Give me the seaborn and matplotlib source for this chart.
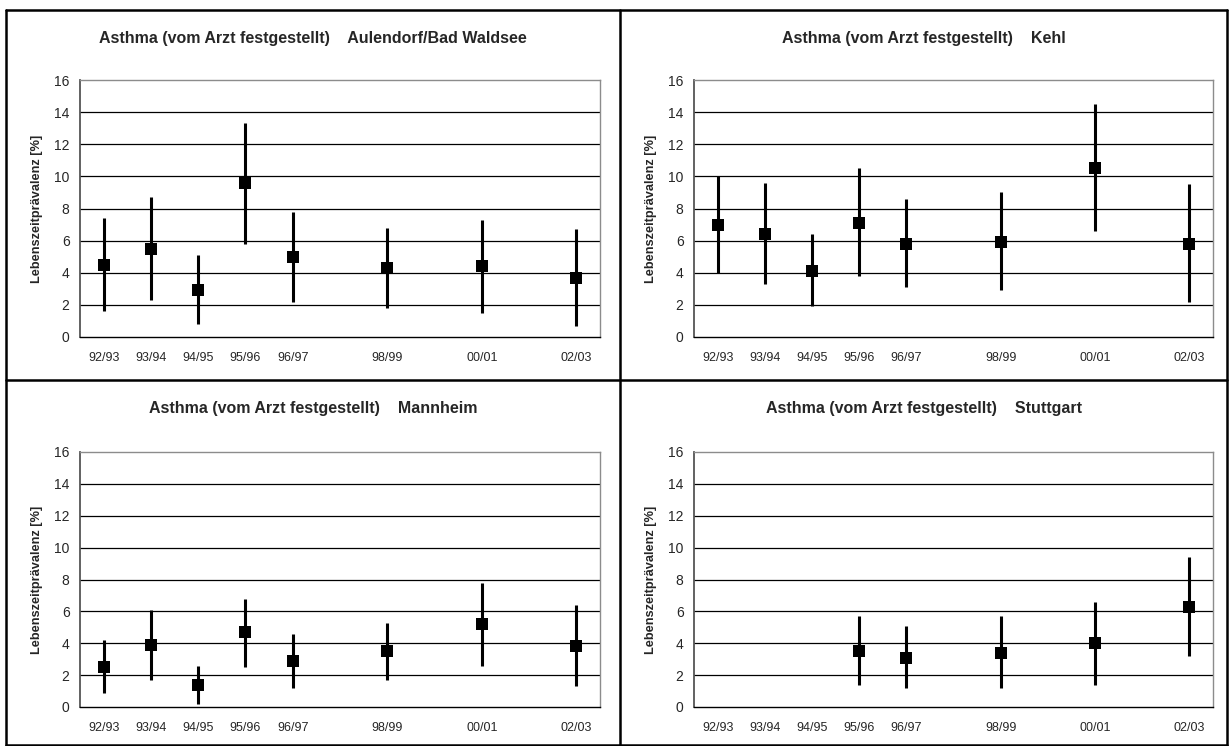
import matplotlib
matplotlib.use("Agg")
import matplotlib.pyplot as plt
from matplotlib.lines import Line2D
import seaborn as sns
import pandas as pd
import numpy as np

sns.set_style("white")
plt.rcParams["font.family"] = ["Liberation Sans", "DejaVu Sans"]

# Survey seasons on the category axis (some seasons without a survey)
seasons = ["92/93", "93/94", "94/95", "95/96", "96/97", "97/98",
           "98/99", "99/00", "00/01", "01/02", "02/03"]
tick_labels = ["92/93", "93/94", "94/95", "95/96", "96/97", "",
               "98/99", "", "00/01", "", "02/03"]

title_prefix = "Asthma (vom Arzt festgestellt)"
ylabel = "Lebenszeitprävalenz [%]"

# Lifetime prevalence with lower / upper confidence limits, per location
aulendorf_seasons = ["92/93", "93/94", "94/95", "95/96", "96/97", "98/99", "00/01", "02/03"]
aulendorf_value = [4.5, 5.5, 2.9, 9.6, 5.0, 4.3, 4.4, 3.7]
aulendorf_low = [1.6, 2.3, 0.8, 5.8, 2.2, 1.8, 1.5, 0.7]
aulendorf_high = [7.4, 8.7, 5.1, 13.3, 7.8, 6.8, 7.3, 6.7]

kehl_seasons = ["92/93", "93/94", "94/95", "95/96", "96/97", "98/99", "00/01", "02/03"]
kehl_value = [7.0, 6.4, 4.1, 7.1, 5.8, 5.9, 10.5, 5.8]
kehl_low = [4.0, 3.3, 1.9, 3.8, 3.1, 2.9, 6.6, 2.2]
kehl_high = [10.0, 9.6, 6.4, 10.5, 8.6, 9.0, 14.5, 9.5]

mannheim_seasons = ["92/93", "93/94", "94/95", "95/96", "96/97", "98/99", "00/01", "02/03"]
mannheim_value = [2.5, 3.9, 1.4, 4.7, 2.9, 3.5, 5.2, 3.8]
mannheim_low = [0.9, 1.7, 0.2, 2.5, 1.2, 1.7, 2.6, 1.3]
mannheim_high = [4.2, 6.1, 2.6, 6.8, 4.6, 5.3, 7.8, 6.4]

stuttgart_seasons = ["95/96", "96/97", "98/99", "00/01", "02/03"]
stuttgart_value = [3.5, 3.1, 3.4, 4.0, 6.3]
stuttgart_low = [1.4, 1.2, 1.2, 1.4, 3.2]
stuttgart_high = [5.7, 5.1, 5.7, 6.6, 9.4]

panels = [
    ("Aulendorf/Bad Waldsee", aulendorf_seasons, aulendorf_value, aulendorf_low, aulendorf_high),
    ("Kehl", kehl_seasons, kehl_value, kehl_low, kehl_high),
    ("Mannheim", mannheim_seasons, mannheim_value, mannheim_low, mannheim_high),
    ("Stuttgart", stuttgart_seasons, stuttgart_value, stuttgart_low, stuttgart_high),
]

W, H = 1229, 746
fig = plt.figure(figsize=(W / 100, H / 100), dpi=100)
fig.patch.set_facecolor("white")

# pixel boxes: (frame_left, frame_top, frame_right, frame_bottom, ax_left, ax_top, ax_right, ax_bottom)
boxes = [
    (6, 10, 620, 380, 80, 80, 600, 337),
    (620, 10, 1227, 380, 694, 80, 1213, 337),
    (6, 380, 620, 745, 80, 452, 600, 707),
    (620, 380, 1227, 745, 694, 452, 1213, 707),
]

for (place, sx, vals, lo, hi), box in zip(panels, boxes):
    fl, ft, fr, fb, al, at, ar, ab = box
    ax = fig.add_axes([al / W, 1 - ab / H, (ar - al) / W, (ab - at) / H])
    df = pd.DataFrame({"season": sx, "value": vals, "low": lo, "high": hi})
    df["pos"] = [seasons.index(s) for s in df["season"]]

    ax.errorbar(df["pos"], df["value"],
                yerr=[df["value"] - df["low"], df["high"] - df["value"]],
                fmt="none", ecolor="black", elinewidth=2.2, capsize=0, zorder=3)
    sns.scatterplot(data=df, x="pos", y="value", marker="s", s=75,
                    color="black", edgecolor="black", linewidth=0, ax=ax, zorder=4)

    ax.set_xlim(-0.5, len(seasons) - 0.5)
    ax.set_ylim(0, 16)
    ax.set_yticks(np.arange(0, 17, 2))
    ax.set_xticks(np.arange(-0.5, len(seasons), 1.0))
    ax.set_xticklabels([])
    ax.set_xticks(np.arange(len(seasons)), minor=True)
    ax.set_xticklabels(tick_labels, minor=True)
    ax.tick_params(axis="x", which="major", direction="inout", length=8,
                   width=1, color="black")
    ax.tick_params(axis="x", which="minor", length=0, pad=11, labelsize=9)
    ax.tick_params(axis="y", direction="inout", length=7, width=1,
                   color="#333333", pad=4, labelsize=10)

    for yv in range(2, 16, 2):
        ax.axhline(yv, color="black", lw=0.9, zorder=1)

    ax.spines["top"].set_color("#8c8c8c")
    ax.spines["right"].set_color("#8c8c8c")
    ax.spines["top"].set_linewidth(1)
    ax.spines["right"].set_linewidth(1)
    ax.spines["left"].set_color("#555555")
    ax.spines["left"].set_linewidth(1.3)
    ax.spines["bottom"].set_color("black")
    ax.spines["bottom"].set_linewidth(1)

    ax.set_xlabel("")
    ax.set_ylabel(ylabel, fontsize=9.2, fontweight="bold", labelpad=8)

    fig.text(((fl + fr) / 2) / W, 1 - (ft + 28) / H,
             f"{title_prefix}    {place}", ha="center", va="center",
             fontsize=11.5, fontweight="bold")

# panel frames
lw = 1.8
for x0, y0, x1, y1 in [(6, 10, 1227, 10), (6, 745, 1227, 745), (6, 10, 6, 745),
                       (1227, 10, 1227, 745), (620, 10, 620, 745), (6, 380, 1227, 380)]:
    fig.add_artist(Line2D([x0 / W, x1 / W], [1 - y0 / H, 1 - y1 / H],
                          transform=fig.transFigure, color="black", lw=lw))

fig.savefig("out.png", dpi=100, facecolor="white")
